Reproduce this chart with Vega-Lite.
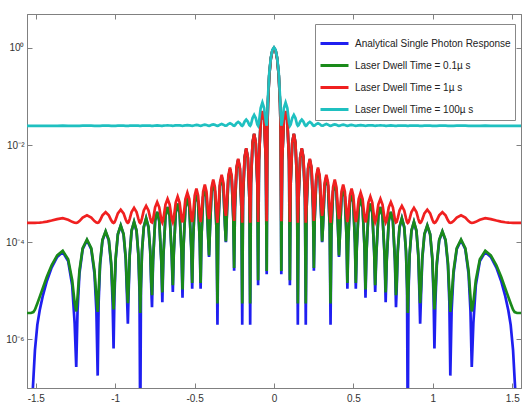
{
"$schema":"https://vega.github.io/schema/vega-lite/v6.json",
"width":494,"height":374,
"autosize":{"type":"none"},
"padding":{"left":27,"top":14,"right":2,"bottom":22},
"background":"white",
"config":{"view":{"stroke":"#808080","strokeWidth":1},"font":"Liberation Sans"},
"data":{"values":[
{"x":0,"b":1,"g":1,"r":1,"c":1.025},
{"x":0.01,"b":0.888,"g":0.888,"r":0.888,"c":0.913},
{"x":0.02,"b":0.603,"g":0.603,"r":0.603,"c":0.628},
{"x":0.03,"b":0.27,"g":0.27,"r":0.27,"c":0.295},
{"x":0.038,"b":0.073,"g":0.073,"r":0.0733,"c":0.098},
{"x":0.042,"b":0.0186,"g":0.0186,"r":0.0189,"c":0.0436},
{"x":0.046,"b":2.2e-5,"g":2.55e-5,"r":2.72e-4,"c":0.025},
{"x":0.0514,"b":0.00478,"g":0.00478,"r":0.00503,"c":0.0298},
{"x":0.0622,"b":0.0327,"g":0.0327,"r":0.033,"c":0.0577},
{"x":0.073,"b":0.05,"g":0.05,"r":0.0503,"c":0.075},
{"x":0.0838,"b":0.0327,"g":0.0327,"r":0.033,"c":0.0577},
{"x":0.0946,"b":0.00478,"g":0.00478,"r":0.00503,"c":0.0298},
{"x":0.1,"b":1.3e-5,"g":1.65e-5,"r":2.63e-4,"c":0.025},
{"x":0.105,"b":0.00161,"g":0.00161,"r":0.00186,"c":0.0266},
{"x":0.115,"b":0.0111,"g":0.0111,"r":0.0114,"c":0.0361},
{"x":0.125,"b":0.0169,"g":0.0169,"r":0.0172,"c":0.0419},
{"x":0.135,"b":0.0111,"g":0.0111,"r":0.0114,"c":0.0361},
{"x":0.145,"b":0.00161,"g":0.00161,"r":0.00186,"c":0.0266},
{"x":0.15,"b":2e-6,"g":5.5e-6,"r":2.52e-4,"c":0.025},
{"x":0.155,"b":0.0008,"g":0.0008,"r":0.00105,"c":0.0258},
{"x":0.165,"b":0.0055,"g":0.0055,"r":0.00575,"c":0.0305},
{"x":0.175,"b":0.0084,"g":0.0084,"r":0.00865,"c":0.0334},
{"x":0.185,"b":0.0055,"g":0.0055,"r":0.00575,"c":0.0305},
{"x":0.195,"b":0.0008,"g":0.0008,"r":0.00105,"c":0.0258},
{"x":0.2,"b":2e-6,"g":5.5e-6,"r":2.52e-4,"c":0.025},
{"x":0.205,"b":0.000478,"g":0.000481,"r":0.000728,"c":0.0255},
{"x":0.215,"b":0.00327,"g":0.00327,"r":0.00352,"c":0.0283},
{"x":0.2255,"b":0.005,"g":0.005,"r":0.00525,"c":0.03},
{"x":0.236,"b":0.00327,"g":0.00327,"r":0.00352,"c":0.0283},
{"x":0.246,"b":0.000478,"g":0.000481,"r":0.000728,"c":0.0255},
{"x":0.251,"b":2.6e-5,"g":2.95e-5,"r":2.76e-4,"c":0.025},
{"x":0.2562,"b":0.000306,"g":0.00031,"r":0.000556,"c":0.0253},
{"x":0.2666,"b":0.00209,"g":0.00209,"r":0.00234,"c":0.0271},
{"x":0.277,"b":0.0032,"g":0.0032,"r":0.00345,"c":0.0282},
{"x":0.2874,"b":0.00209,"g":0.00209,"r":0.00234,"c":0.0271},
{"x":0.2978,"b":0.000306,"g":0.00031,"r":0.000556,"c":0.0253},
{"x":0.303,"b":1e-4,"g":1.04e-4,"r":3.5e-4,"c":0.0251},
{"x":0.3083,"b":0.00021,"g":0.000214,"r":0.00046,"c":0.0252},
{"x":0.3189,"b":0.00144,"g":0.00144,"r":0.00169,"c":0.0264},
{"x":0.3295,"b":0.0022,"g":0.0022,"r":0.00245,"c":0.0272},
{"x":0.3401,"b":0.00144,"g":0.00144,"r":0.00169,"c":0.0264},
{"x":0.3507,"b":0.00021,"g":0.000214,"r":0.00046,"c":0.0252},
{"x":0.356,"b":2e-6,"g":5.5e-6,"r":2.52e-4,"c":0.025},
{"x":0.3613,"b":0.000162,"g":0.000166,"r":0.000412,"c":0.0252},
{"x":0.3719,"b":0.00111,"g":0.00111,"r":0.00136,"c":0.0261},
{"x":0.3825,"b":0.0017,"g":0.0017,"r":0.00195,"c":0.0267},
{"x":0.3931,"b":0.00111,"g":0.00111,"r":0.00136,"c":0.0261},
{"x":0.4037,"b":0.000162,"g":0.000166,"r":0.000412,"c":0.0252},
{"x":0.409,"b":5e-5,"g":5.35e-5,"r":3e-4,"c":0.025},
{"x":0.4143,"b":0.000124,"g":0.000128,"r":0.000374,"c":0.0251},
{"x":0.4249,"b":0.000851,"g":0.000855,"r":0.0011,"c":0.0259},
{"x":0.4355,"b":0.0013,"g":0.0013,"r":0.00155,"c":0.0263},
{"x":0.4461,"b":0.000851,"g":0.000855,"r":0.0011,"c":0.0259},
{"x":0.4567,"b":0.000124,"g":0.000128,"r":0.000374,"c":0.0251},
{"x":0.462,"b":1.1e-5,"g":1.45e-5,"r":2.61e-4,"c":0.025},
{"x":0.4673,"b":9.74e-5,"g":1.01e-4,"r":0.000347,"c":0.0251},
{"x":0.4779,"b":0.000668,"g":0.000671,"r":0.000918,"c":0.0257},
{"x":0.4885,"b":0.00102,"g":0.00102,"r":0.00127,"c":0.026},
{"x":0.4991,"b":0.000668,"g":0.000671,"r":0.000918,"c":0.0257},
{"x":0.5097,"b":9.74e-5,"g":1.01e-4,"r":0.000347,"c":0.0251},
{"x":0.515,"b":1.1e-5,"g":1.45e-5,"r":2.61e-4,"c":0.025},
{"x":0.5211,"b":7.64e-5,"g":7.99e-5,"r":0.000326,"c":0.0251},
{"x":0.5333,"b":0.000524,"g":0.000527,"r":0.000774,"c":0.0255},
{"x":0.5455,"b":0.0008,"g":0.000803,"r":0.00105,"c":0.0258},
{"x":0.5577,"b":0.000524,"g":0.000527,"r":0.000774,"c":0.0255},
{"x":0.5699,"b":7.64e-5,"g":7.99e-5,"r":0.000326,"c":0.0251},
{"x":0.576,"b":7.2e-6,"g":1.07e-5,"r":2.57e-4,"c":0.025},
{"x":0.5821,"b":5.92e-5,"g":6.27e-5,"r":0.000309,"c":0.0251},
{"x":0.5943,"b":0.000406,"g":0.00041,"r":0.000656,"c":0.0254},
{"x":0.6065,"b":0.00062,"g":0.000624,"r":0.00087,"c":0.0256},
{"x":0.6187,"b":0.000406,"g":0.00041,"r":0.000656,"c":0.0254},
{"x":0.6309,"b":5.92e-5,"g":6.27e-5,"r":0.000309,"c":0.0251},
{"x":0.637,"b":9.5e-6,"g":1.3e-5,"r":2.6e-4,"c":0.025},
{"x":0.6436,"b":5.06e-5,"g":5.41e-5,"r":0.000301,"c":0.0251},
{"x":0.6568,"b":0.000347,"g":0.00035,"r":0.000597,"c":0.0253},
{"x":0.67,"b":0.00053,"g":0.000533,"r":0.00078,"c":0.0255},
{"x":0.6832,"b":0.000347,"g":0.00035,"r":0.000597,"c":0.0253},
{"x":0.6964,"b":5.06e-5,"g":5.41e-5,"r":0.000301,"c":0.0251},
{"x":0.703,"b":5.8e-6,"g":9.3e-6,"r":2.56e-4,"c":0.025},
{"x":0.7095,"b":4.01e-5,"g":4.36e-5,"r":0.00029,"c":0.025},
{"x":0.7225,"b":0.000275,"g":0.000279,"r":0.000525,"c":0.0253},
{"x":0.7355,"b":0.00042,"g":0.000424,"r":0.00067,"c":0.0254},
{"x":0.7485,"b":0.000275,"g":0.000279,"r":0.000525,"c":0.0253},
{"x":0.7615,"b":4.01e-5,"g":4.36e-5,"r":0.00029,"c":0.025},
{"x":0.768,"b":4.6e-6,"g":8.1e-6,"r":2.55e-4,"c":0.025},
{"x":0.7724,"b":1.09e-5,"g":1.44e-5,"r":2.61e-4,"c":0.025},
{"x":0.7791,"b":6.39e-5,"g":6.74e-5,"r":3.14e-4,"c":0.0251},
{"x":0.7902,"b":0.000203,"g":0.000207,"r":0.000453,"c":0.0252},
{"x":0.805,"b":0.00031,"g":0.000314,"r":0.00056,"c":0.0253},
{"x":0.8198,"b":0.000203,"g":0.000207,"r":0.000453,"c":0.0252},
{"x":0.8309,"b":6.39e-5,"g":6.74e-5,"r":3.14e-4,"c":0.0251},
{"x":0.8376,"b":1.09e-5,"g":1.44e-5,"r":2.61e-4,"c":0.025},
{"x":0.842,"b":1e-8,"g":3.5e-6,"r":2.5e-4,"c":0.025},
{"x":0.8467,"b":9.1e-6,"g":1.26e-5,"r":2.59e-4,"c":0.025},
{"x":0.8537,"b":5.36e-5,"g":5.71e-5,"r":3.04e-4,"c":0.0251},
{"x":0.8654,"b":0.00017,"g":0.000174,"r":0.00042,"c":0.0252},
{"x":0.881,"b":0.00026,"g":0.000264,"r":0.00051,"c":0.0253},
{"x":0.8966,"b":0.00017,"g":0.000174,"r":0.00042,"c":0.0252},
{"x":0.9083,"b":5.36e-5,"g":5.71e-5,"r":3.04e-4,"c":0.0251},
{"x":0.9153,"b":9.1e-6,"g":1.26e-5,"r":2.59e-4,"c":0.025},
{"x":0.92,"b":2.1e-6,"g":5.6e-6,"r":2.52e-4,"c":0.025},
{"x":0.9254,"b":7.7e-6,"g":1.12e-5,"r":2.58e-4,"c":0.025},
{"x":0.9335,"b":4.53e-5,"g":4.88e-5,"r":2.95e-4,"c":0.025},
{"x":0.947,"b":0.000144,"g":0.000148,"r":0.000394,"c":0.0251},
{"x":0.965,"b":0.00022,"g":0.000224,"r":0.00047,"c":0.0252},
{"x":0.983,"b":0.000144,"g":0.000148,"r":0.000394,"c":0.0251},
{"x":0.9965,"b":4.53e-5,"g":4.88e-5,"r":2.95e-4,"c":0.025},
{"x":1.0046,"b":7.7e-6,"g":1.12e-5,"r":2.58e-4,"c":0.025},
{"x":1.01,"b":6.5e-7,"g":4.15e-6,"r":2.5e-4,"c":0.025},
{"x":1.016,"b":5.78e-6,"g":9.3e-6,"r":2.56e-4,"c":0.025},
{"x":1.025,"b":3.4e-5,"g":3.75e-5,"r":2.84e-4,"c":0.025},
{"x":1.04,"b":0.000108,"g":0.000112,"r":0.000358,"c":0.0251},
{"x":1.06,"b":0.000165,"g":0.000169,"r":0.000415,"c":0.0252},
{"x":1.08,"b":0.000108,"g":0.000112,"r":0.000358,"c":0.0251},
{"x":1.095,"b":3.4e-5,"g":3.75e-5,"r":2.84e-4,"c":0.025},
{"x":1.104,"b":5.78e-6,"g":9.3e-6,"r":2.56e-4,"c":0.025},
{"x":1.11,"b":1.8e-7,"g":3.7e-6,"r":2.5e-4,"c":0.025},
{"x":1.1181,"b":3.85e-6,"g":7.35e-6,"r":2.54e-4,"c":0.025},
{"x":1.1303,"b":2.27e-5,"g":2.62e-5,"r":2.73e-4,"c":0.025},
{"x":1.1505,"b":7.2e-5,"g":7.55e-5,"r":3.22e-4,"c":0.0251},
{"x":1.1775,"b":0.00011,"g":0.000114,"r":0.00036,"c":0.0251},
{"x":1.2045,"b":7.2e-5,"g":7.55e-5,"r":3.22e-4,"c":0.0251},
{"x":1.2248,"b":2.27e-5,"g":2.62e-5,"r":2.73e-4,"c":0.025},
{"x":1.2369,"b":3.85e-6,"g":7.35e-6,"r":2.54e-4,"c":0.025},
{"x":1.245,"b":2.7e-7,"g":3.77e-6,"r":2.5e-4,"c":0.025},
{"x":1.2552,"b":2.2e-6,"g":5.7e-6,"r":2.52e-4,"c":0.025},
{"x":1.2705,"b":1.3e-5,"g":1.65e-5,"r":2.63e-4,"c":0.025},
{"x":1.296,"b":4.1e-5,"g":4.45e-5,"r":2.91e-4,"c":0.025},
{"x":1.33,"b":6.3e-5,"g":6.65e-5,"r":3.13e-4,"c":0.0251},
{"x":1.365,"b":5e-5,"g":5.35e-5,"r":3e-4,"c":0.025},
{"x":1.4,"b":3e-5,"g":3.35e-5,"r":2.8e-4,"c":0.025},
{"x":1.43,"b":1.6e-5,"g":1.95e-5,"r":2.66e-4,"c":0.025},
{"x":1.455,"b":8e-6,"g":1.15e-5,"r":2.58e-4,"c":0.025},
{"x":1.475,"b":4e-6,"g":7.5e-6,"r":2.54e-4,"c":0.025},
{"x":1.49,"b":2e-6,"g":5.5e-6,"r":2.52e-4,"c":0.025},
{"x":1.505,"b":6e-7,"g":4.1e-6,"r":2.5e-4,"c":0.025},
{"x":1.515,"b":1.5e-7,"g":3.65e-6,"r":2.5e-4,"c":0.025},
{"x":1.53,"b":2e-8,"g":3.5e-6,"r":2.5e-4,"c":0.025},
{"x":1.555,"b":1e-9,"g":3.5e-6,"r":2.5e-4,"c":0.025},
{"x":-0.01,"b":0.888,"g":0.888,"r":0.888,"c":0.913},
{"x":-0.02,"b":0.603,"g":0.603,"r":0.603,"c":0.628},
{"x":-0.03,"b":0.27,"g":0.27,"r":0.27,"c":0.295},
{"x":-0.038,"b":0.073,"g":0.073,"r":0.0733,"c":0.098},
{"x":-0.042,"b":0.0186,"g":0.0186,"r":0.0189,"c":0.0436},
{"x":-0.046,"b":2.2e-5,"g":2.55e-5,"r":2.72e-4,"c":0.025},
{"x":-0.0514,"b":0.00478,"g":0.00478,"r":0.00503,"c":0.0298},
{"x":-0.0622,"b":0.0327,"g":0.0327,"r":0.033,"c":0.0577},
{"x":-0.073,"b":0.05,"g":0.05,"r":0.0503,"c":0.075},
{"x":-0.0838,"b":0.0327,"g":0.0327,"r":0.033,"c":0.0577},
{"x":-0.0946,"b":0.00478,"g":0.00478,"r":0.00503,"c":0.0298},
{"x":-0.1,"b":1.3e-5,"g":1.65e-5,"r":2.63e-4,"c":0.025},
{"x":-0.105,"b":0.00161,"g":0.00161,"r":0.00186,"c":0.0266},
{"x":-0.115,"b":0.0111,"g":0.0111,"r":0.0114,"c":0.0361},
{"x":-0.125,"b":0.0169,"g":0.0169,"r":0.0172,"c":0.0419},
{"x":-0.135,"b":0.0111,"g":0.0111,"r":0.0114,"c":0.0361},
{"x":-0.145,"b":0.00161,"g":0.00161,"r":0.00186,"c":0.0266},
{"x":-0.15,"b":2e-6,"g":5.5e-6,"r":2.52e-4,"c":0.025},
{"x":-0.155,"b":0.0008,"g":0.0008,"r":0.00105,"c":0.0258},
{"x":-0.165,"b":0.0055,"g":0.0055,"r":0.00575,"c":0.0305},
{"x":-0.175,"b":0.0084,"g":0.0084,"r":0.00865,"c":0.0334},
{"x":-0.185,"b":0.0055,"g":0.0055,"r":0.00575,"c":0.0305},
{"x":-0.195,"b":0.0008,"g":0.0008,"r":0.00105,"c":0.0258},
{"x":-0.2,"b":2e-6,"g":5.5e-6,"r":2.52e-4,"c":0.025},
{"x":-0.205,"b":0.000478,"g":0.000481,"r":0.000728,"c":0.0255},
{"x":-0.215,"b":0.00327,"g":0.00327,"r":0.00352,"c":0.0283},
{"x":-0.2255,"b":0.005,"g":0.005,"r":0.00525,"c":0.03},
{"x":-0.236,"b":0.00327,"g":0.00327,"r":0.00352,"c":0.0283},
{"x":-0.246,"b":0.000478,"g":0.000481,"r":0.000728,"c":0.0255},
{"x":-0.251,"b":2.6e-5,"g":2.95e-5,"r":2.76e-4,"c":0.025},
{"x":-0.2562,"b":0.000306,"g":0.00031,"r":0.000556,"c":0.0253},
{"x":-0.2666,"b":0.00209,"g":0.00209,"r":0.00234,"c":0.0271},
{"x":-0.277,"b":0.0032,"g":0.0032,"r":0.00345,"c":0.0282},
{"x":-0.2874,"b":0.00209,"g":0.00209,"r":0.00234,"c":0.0271},
{"x":-0.2978,"b":0.000306,"g":0.00031,"r":0.000556,"c":0.0253},
{"x":-0.303,"b":1e-4,"g":1.04e-4,"r":3.5e-4,"c":0.0251},
{"x":-0.3083,"b":0.00021,"g":0.000214,"r":0.00046,"c":0.0252},
{"x":-0.3189,"b":0.00144,"g":0.00144,"r":0.00169,"c":0.0264},
{"x":-0.3295,"b":0.0022,"g":0.0022,"r":0.00245,"c":0.0272},
{"x":-0.3401,"b":0.00144,"g":0.00144,"r":0.00169,"c":0.0264},
{"x":-0.3507,"b":0.00021,"g":0.000214,"r":0.00046,"c":0.0252},
{"x":-0.356,"b":2e-6,"g":5.5e-6,"r":2.52e-4,"c":0.025},
{"x":-0.3613,"b":0.000162,"g":0.000166,"r":0.000412,"c":0.0252},
{"x":-0.3719,"b":0.00111,"g":0.00111,"r":0.00136,"c":0.0261},
{"x":-0.3825,"b":0.0017,"g":0.0017,"r":0.00195,"c":0.0267},
{"x":-0.3931,"b":0.00111,"g":0.00111,"r":0.00136,"c":0.0261},
{"x":-0.4037,"b":0.000162,"g":0.000166,"r":0.000412,"c":0.0252},
{"x":-0.409,"b":5e-5,"g":5.35e-5,"r":3e-4,"c":0.025},
{"x":-0.4143,"b":0.000124,"g":0.000128,"r":0.000374,"c":0.0251},
{"x":-0.4249,"b":0.000851,"g":0.000855,"r":0.0011,"c":0.0259},
{"x":-0.4355,"b":0.0013,"g":0.0013,"r":0.00155,"c":0.0263},
{"x":-0.4461,"b":0.000851,"g":0.000855,"r":0.0011,"c":0.0259},
{"x":-0.4567,"b":0.000124,"g":0.000128,"r":0.000374,"c":0.0251},
{"x":-0.462,"b":1.1e-5,"g":1.45e-5,"r":2.61e-4,"c":0.025},
{"x":-0.4673,"b":9.74e-5,"g":1.01e-4,"r":0.000347,"c":0.0251},
{"x":-0.4779,"b":0.000668,"g":0.000671,"r":0.000918,"c":0.0257},
{"x":-0.4885,"b":0.00102,"g":0.00102,"r":0.00127,"c":0.026},
{"x":-0.4991,"b":0.000668,"g":0.000671,"r":0.000918,"c":0.0257},
{"x":-0.5097,"b":9.74e-5,"g":1.01e-4,"r":0.000347,"c":0.0251},
{"x":-0.515,"b":1.1e-5,"g":1.45e-5,"r":2.61e-4,"c":0.025},
{"x":-0.5211,"b":7.64e-5,"g":7.99e-5,"r":0.000326,"c":0.0251},
{"x":-0.5333,"b":0.000524,"g":0.000527,"r":0.000774,"c":0.0255},
{"x":-0.5455,"b":0.0008,"g":0.000803,"r":0.00105,"c":0.0258},
{"x":-0.5577,"b":0.000524,"g":0.000527,"r":0.000774,"c":0.0255},
{"x":-0.5699,"b":7.64e-5,"g":7.99e-5,"r":0.000326,"c":0.0251},
{"x":-0.576,"b":7.2e-6,"g":1.07e-5,"r":2.57e-4,"c":0.025},
{"x":-0.5821,"b":5.92e-5,"g":6.27e-5,"r":0.000309,"c":0.0251},
{"x":-0.5943,"b":0.000406,"g":0.00041,"r":0.000656,"c":0.0254},
{"x":-0.6065,"b":0.00062,"g":0.000624,"r":0.00087,"c":0.0256},
{"x":-0.6187,"b":0.000406,"g":0.00041,"r":0.000656,"c":0.0254},
{"x":-0.6309,"b":5.92e-5,"g":6.27e-5,"r":0.000309,"c":0.0251},
{"x":-0.637,"b":9.5e-6,"g":1.3e-5,"r":2.6e-4,"c":0.025},
{"x":-0.6436,"b":5.06e-5,"g":5.41e-5,"r":0.000301,"c":0.0251},
{"x":-0.6568,"b":0.000347,"g":0.00035,"r":0.000597,"c":0.0253},
{"x":-0.67,"b":0.00053,"g":0.000533,"r":0.00078,"c":0.0255},
{"x":-0.6832,"b":0.000347,"g":0.00035,"r":0.000597,"c":0.0253},
{"x":-0.6964,"b":5.06e-5,"g":5.41e-5,"r":0.000301,"c":0.0251},
{"x":-0.703,"b":5.8e-6,"g":9.3e-6,"r":2.56e-4,"c":0.025},
{"x":-0.7095,"b":4.01e-5,"g":4.36e-5,"r":0.00029,"c":0.025},
{"x":-0.7225,"b":0.000275,"g":0.000279,"r":0.000525,"c":0.0253},
{"x":-0.7355,"b":0.00042,"g":0.000424,"r":0.00067,"c":0.0254},
{"x":-0.7485,"b":0.000275,"g":0.000279,"r":0.000525,"c":0.0253},
{"x":-0.7615,"b":4.01e-5,"g":4.36e-5,"r":0.00029,"c":0.025},
{"x":-0.768,"b":4.6e-6,"g":8.1e-6,"r":2.55e-4,"c":0.025},
{"x":-0.7724,"b":1.09e-5,"g":1.44e-5,"r":2.61e-4,"c":0.025},
{"x":-0.7791,"b":6.39e-5,"g":6.74e-5,"r":3.14e-4,"c":0.0251},
{"x":-0.7902,"b":0.000203,"g":0.000207,"r":0.000453,"c":0.0252},
{"x":-0.805,"b":0.00031,"g":0.000314,"r":0.00056,"c":0.0253},
{"x":-0.8198,"b":0.000203,"g":0.000207,"r":0.000453,"c":0.0252},
{"x":-0.8309,"b":6.39e-5,"g":6.74e-5,"r":3.14e-4,"c":0.0251},
{"x":-0.8376,"b":1.09e-5,"g":1.44e-5,"r":2.61e-4,"c":0.025},
{"x":-0.842,"b":1e-8,"g":3.5e-6,"r":2.5e-4,"c":0.025},
{"x":-0.8467,"b":9.1e-6,"g":1.26e-5,"r":2.59e-4,"c":0.025},
{"x":-0.8537,"b":5.36e-5,"g":5.71e-5,"r":3.04e-4,"c":0.0251},
{"x":-0.8654,"b":0.00017,"g":0.000174,"r":0.00042,"c":0.0252},
{"x":-0.881,"b":0.00026,"g":0.000264,"r":0.00051,"c":0.0253},
{"x":-0.8966,"b":0.00017,"g":0.000174,"r":0.00042,"c":0.0252},
{"x":-0.9083,"b":5.36e-5,"g":5.71e-5,"r":3.04e-4,"c":0.0251},
{"x":-0.9153,"b":9.1e-6,"g":1.26e-5,"r":2.59e-4,"c":0.025},
{"x":-0.92,"b":2.1e-6,"g":5.6e-6,"r":2.52e-4,"c":0.025},
{"x":-0.9254,"b":7.7e-6,"g":1.12e-5,"r":2.58e-4,"c":0.025},
{"x":-0.9335,"b":4.53e-5,"g":4.88e-5,"r":2.95e-4,"c":0.025},
{"x":-0.947,"b":0.000144,"g":0.000148,"r":0.000394,"c":0.0251},
{"x":-0.965,"b":0.00022,"g":0.000224,"r":0.00047,"c":0.0252},
{"x":-0.983,"b":0.000144,"g":0.000148,"r":0.000394,"c":0.0251},
{"x":-0.9965,"b":4.53e-5,"g":4.88e-5,"r":2.95e-4,"c":0.025},
{"x":-1.0046,"b":7.7e-6,"g":1.12e-5,"r":2.58e-4,"c":0.025},
{"x":-1.01,"b":6.5e-7,"g":4.15e-6,"r":2.5e-4,"c":0.025},
{"x":-1.016,"b":5.78e-6,"g":9.3e-6,"r":2.56e-4,"c":0.025},
{"x":-1.025,"b":3.4e-5,"g":3.75e-5,"r":2.84e-4,"c":0.025},
{"x":-1.04,"b":0.000108,"g":0.000112,"r":0.000358,"c":0.0251},
{"x":-1.06,"b":0.000165,"g":0.000169,"r":0.000415,"c":0.0252},
{"x":-1.08,"b":0.000108,"g":0.000112,"r":0.000358,"c":0.0251},
{"x":-1.095,"b":3.4e-5,"g":3.75e-5,"r":2.84e-4,"c":0.025},
{"x":-1.104,"b":5.78e-6,"g":9.3e-6,"r":2.56e-4,"c":0.025},
{"x":-1.11,"b":1.8e-7,"g":3.7e-6,"r":2.5e-4,"c":0.025},
{"x":-1.1181,"b":3.85e-6,"g":7.35e-6,"r":2.54e-4,"c":0.025},
{"x":-1.1303,"b":2.27e-5,"g":2.62e-5,"r":2.73e-4,"c":0.025},
{"x":-1.1505,"b":7.2e-5,"g":7.55e-5,"r":3.22e-4,"c":0.0251},
{"x":-1.1775,"b":0.00011,"g":0.000114,"r":0.00036,"c":0.0251},
{"x":-1.2045,"b":7.2e-5,"g":7.55e-5,"r":3.22e-4,"c":0.0251},
{"x":-1.2248,"b":2.27e-5,"g":2.62e-5,"r":2.73e-4,"c":0.025},
{"x":-1.2369,"b":3.85e-6,"g":7.35e-6,"r":2.54e-4,"c":0.025},
{"x":-1.245,"b":2.7e-7,"g":3.77e-6,"r":2.5e-4,"c":0.025},
{"x":-1.2552,"b":2.2e-6,"g":5.7e-6,"r":2.52e-4,"c":0.025},
{"x":-1.2705,"b":1.3e-5,"g":1.65e-5,"r":2.63e-4,"c":0.025},
{"x":-1.296,"b":4.1e-5,"g":4.45e-5,"r":2.91e-4,"c":0.025},
{"x":-1.33,"b":6.3e-5,"g":6.65e-5,"r":3.13e-4,"c":0.0251},
{"x":-1.365,"b":5e-5,"g":5.35e-5,"r":3e-4,"c":0.025},
{"x":-1.4,"b":3e-5,"g":3.35e-5,"r":2.8e-4,"c":0.025},
{"x":-1.43,"b":1.6e-5,"g":1.95e-5,"r":2.66e-4,"c":0.025},
{"x":-1.455,"b":8e-6,"g":1.15e-5,"r":2.58e-4,"c":0.025},
{"x":-1.475,"b":4e-6,"g":7.5e-6,"r":2.54e-4,"c":0.025},
{"x":-1.49,"b":2e-6,"g":5.5e-6,"r":2.52e-4,"c":0.025},
{"x":-1.505,"b":6e-7,"g":4.1e-6,"r":2.5e-4,"c":0.025},
{"x":-1.515,"b":1.5e-7,"g":3.65e-6,"r":2.5e-4,"c":0.025},
{"x":-1.53,"b":2e-8,"g":3.5e-6,"r":2.5e-4,"c":0.025},
{"x":-1.555,"b":1e-9,"g":3.5e-6,"r":2.5e-4,"c":0.025}
]},
"layer":[
{"mark":{"type":"line","clip":true,"strokeWidth":2.7},
 "encoding":{
  "x":{"field":"x","type":"quantitative","scale":{"domain":[-1.555,1.555],"nice":false,"zero":false},
       "axis":{"orient":"bottom","title":null,"values":[-1.5,-1,-0.5,0,0.5,1,1.5],"labelExpr":"datum.value + ''","grid":false,"tickSize":-5,"labelPadding":10,"domainColor":"#808080","tickColor":"#808080","labelColor":"#333333","labelFontSize":10,"labelFont":"Liberation Sans"}},
  "y":{"field":"b","type":"quantitative","scale":{"type":"log","domain":[1e-7,5],"nice":false},
       "axis":{"orient":"left","title":null,"values":[1e-6,0.0001,0.01,1],"labelExpr":"'10' + (datum.value >= 0.5 ? '⁰' : datum.value >= 0.005 ? '⁻²' : datum.value >= 0.00005 ? '⁻⁴' : '⁻⁶')","grid":false,"tickSize":-5,"labelPadding":8,"domainColor":"#808080","tickColor":"#808080","labelColor":"#333333","labelFontSize":10,"labelFont":"Liberation Sans"}},
  "color":{"datum":"Analytical Single Photon Response","type":"nominal",
   "scale":{"domain":["Analytical Single Photon Response","Laser Dwell Time = 0.1µ s","Laser Dwell Time = 1µ s","Laser Dwell Time = 100µ s"],"range":["#1f1ff0","#1a8a1a","#f02020","#1fc0c0"]},
   "legend":{"orient":"none","legendX":288,"legendY":10,"title":null,"direction":"vertical","symbolType":"stroke","symbolSize":784,"symbolStrokeWidth":3,"labelFontSize":10,"labelFont":"Liberation Sans","labelColor":"#222222","padding":4,"rowPadding":-6,"fillColor":"white","strokeColor":"#888888","labelLimit":260,"labelOffset":5}}
 }},
{"mark":{"type":"line","clip":true,"strokeWidth":2.7},
 "encoding":{
  "x":{"field":"x","type":"quantitative","axis":{"orient":"top","title":null,"values":[-1.5,-1,-0.5,0,0.5,1,1.5],"labels":false,"grid":false,"tickSize":-5,"domainColor":"#808080","tickColor":"#808080"}},
  "y":{"field":"g","type":"quantitative","axis":{"orient":"right","title":null,"values":[1e-6,0.0001,0.01,1],"labels":false,"grid":false,"tickSize":-5,"domainColor":"#808080","tickColor":"#808080"}},
  "color":{"datum":"Laser Dwell Time = 0.1µ s","type":"nominal"}
 }},
{"mark":{"type":"line","clip":true,"strokeWidth":2.7},
 "encoding":{
  "x":{"field":"x","type":"quantitative","axis":null},
  "y":{"field":"r","type":"quantitative","axis":null},
  "color":{"datum":"Laser Dwell Time = 1µ s","type":"nominal"}
 }},
{"mark":{"type":"line","clip":true,"strokeWidth":2.7},
 "encoding":{
  "x":{"field":"x","type":"quantitative","axis":null},
  "y":{"field":"c","type":"quantitative","axis":null},
  "color":{"datum":"Laser Dwell Time = 100µ s","type":"nominal"}
 }}
],
"resolve":{"axis":{"x":"independent","y":"independent"}}
}
